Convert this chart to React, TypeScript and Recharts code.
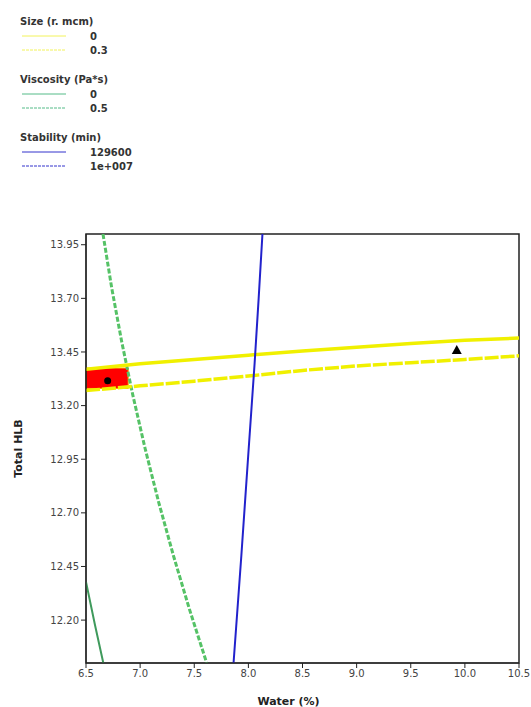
import { ComposedChart, Line, Scatter, XAxis, YAxis, ReferenceArea, Legend } from 'recharts';

const xTicks = [6.5, 7.0, 7.5, 8.0, 8.5, 9.0, 9.5, 10.0, 10.5];
const yTicks = [12.2, 12.45, 12.7, 12.95, 13.2, 13.45, 13.7, 13.95];

// contour lines (water %, total HLB)
const sizeZero = [
  { x: 6.5, y: 13.37 }, { x: 7.0, y: 13.395 }, { x: 7.5, y: 13.415 }, { x: 8.0, y: 13.435 },
  { x: 8.5, y: 13.455 }, { x: 9.0, y: 13.472 }, { x: 9.5, y: 13.49 }, { x: 10.0, y: 13.505 },
  { x: 10.5, y: 13.515 },
];
const sizePoint3 = [
  { x: 6.5, y: 13.27 }, { x: 7.0, y: 13.292 }, { x: 7.5, y: 13.314 }, { x: 8.0, y: 13.338 },
  { x: 8.5, y: 13.364 }, { x: 9.0, y: 13.385 }, { x: 9.5, y: 13.4 }, { x: 10.0, y: 13.415 },
  { x: 10.5, y: 13.432 },
];
const viscosityZero = [
  { x: 6.5, y: 12.378 }, { x: 6.583, y: 12.177 }, { x: 6.66, y: 12.0 },
];
const viscosityHalf = [
  { x: 6.657, y: 14.0 }, { x: 6.737, y: 13.75 }, { x: 6.829, y: 13.5 }, { x: 6.932, y: 13.25 },
  { x: 7.046, y: 13.0 }, { x: 7.171, y: 12.75 }, { x: 7.308, y: 12.5 }, { x: 7.456, y: 12.25 },
  { x: 7.615, y: 12.0 },
];
const stabilityLow = [
  { x: 8.13, y: 14.0 }, { x: 8.095, y: 13.7 }, { x: 8.058, y: 13.4 }, { x: 8.003, y: 13.0 },
  { x: 7.935, y: 12.5 }, { x: 7.863, y: 12.0 },
];

const feasible = { x1: 6.5, x2: 6.89, y1: 13.28, y2: 13.375 };
const optimumPoint = [{ x: 6.7, y: 13.316 }];
const designPoint = [{ x: 9.925, y: 13.459 }];

const legendGroups = [
  { title: 'Size (r. mcm)', color: '#f2f25a', labels: ['0', '0.3'] },
  { title: 'Viscosity (Pa*s)', color: '#55bb88', labels: ['0', '0.5'] },
  { title: 'Stability (min)', color: '#3333cc', labels: ['129600', '1e+007'] },
];

const FONT = '"DejaVu Sans", Verdana, sans-serif';

function OverlayLegend() {
  return (
    <svg width={200} height={200} style={{ fontFamily: FONT }}>
      {legendGroups.map((g, gi) => {
        const top = 21 + gi * 58;
        return (
          <g key={g.title}>
            <text x={20} y={top} fontSize={10} fontWeight="bold" fill="#333" dominantBaseline="central">
              {g.title}
            </text>
            {g.labels.map((lab, li) => {
              const y = top + 15 + li * 14;
              return (
                <g key={lab}>
                  <line x1={22} x2={66} y1={y} y2={y} stroke={g.color} strokeWidth={1}
                    strokeDasharray={li === 1 ? '3 1' : undefined} />
                  <text x={90} y={y} fontSize={10} fontWeight="bold" fill="#333" dominantBaseline="central">
                    {lab}
                  </text>
                </g>
              );
            })}
          </g>
        );
      })}
    </svg>
  );
}

export default function App() {
  return (
    <div style={{ position: 'absolute', left: 0, top: 0, width: 531, height: 707, background: '#fff' }}>
      <ComposedChart width={531} height={707} margin={{ top: 234, right: 12, bottom: 0, left: 6 }}>
        <XAxis
          type="number"
          dataKey="x"
          domain={[6.5, 10.5]}
          ticks={xTicks}
          allowDataOverflow
          height={44}
          tickFormatter={(v: number) => v.toFixed(1)}
          tick={{ fontSize: 10, fill: '#444', fontFamily: FONT }}
          stroke="#222"
          tickSize={5}
          label={{ value: 'Water (%)', position: 'insideBottom', offset: 2, dx: -14, fontSize: 11, fontWeight: 'bold', fill: '#222', fontFamily: FONT }}
        />
        <YAxis
          type="number"
          dataKey="y"
          domain={[12, 14]}
          ticks={yTicks}
          allowDataOverflow
          width={80}
          tickFormatter={(v: number) => v.toFixed(2)}
          tick={{ fontSize: 10, fill: '#444', fontFamily: FONT }}
          stroke="#222"
          tickSize={5}
          label={{ value: 'Total HLB', angle: -90, position: 'center', dx: -28, fontSize: 11, fontWeight: 'bold', fill: '#222', fontFamily: FONT }}
        />
        <Legend content={<OverlayLegend />} layout="horizontal" verticalAlign="middle" align="center"
          wrapperStyle={{ left: 0, top: 0, width: 200, height: 200 }} />
        <ReferenceArea {...feasible} fill="#ff0000" fillOpacity={1} stroke="#ffaa00" strokeWidth={1} ifOverflow="visible" />
        <Line data={viscosityZero} dataKey="y" stroke="#3f9a5c" strokeWidth={2} dot={false} isAnimationActive={false} />
        <Line data={viscosityHalf} dataKey="y" stroke="#55c266" strokeWidth={3} strokeDasharray="5 2" dot={false} isAnimationActive={false} />
        <Line data={sizeZero} dataKey="y" stroke="#f0f000" strokeWidth={3.5} dot={false} isAnimationActive={false} />
        <Line data={sizePoint3} dataKey="y" stroke="#f0f000" strokeWidth={3.5} strokeDasharray="14 2" dot={false} isAnimationActive={false} />
        <Line data={stabilityLow} dataKey="y" stroke="#2222cc" strokeWidth={2} dot={false} isAnimationActive={false} />
        <Scatter data={optimumPoint} dataKey="y" isAnimationActive={false}
          shape={(p: any) => <circle cx={p.cx} cy={p.cy} r={3.5} fill="#000" />} />
        <Scatter data={designPoint} dataKey="y" isAnimationActive={false}
          shape={(p: any) => <polygon points={`${p.cx},${p.cy - 5} ${p.cx + 5},${p.cy + 4} ${p.cx - 5},${p.cy + 4}`} fill="#000" />} />
        <ReferenceArea x1={6.5} x2={10.5} y1={12} y2={14} fill="none" stroke="#222" strokeWidth={1.5} ifOverflow="visible" />
      </ComposedChart>
    </div>
  );
}
